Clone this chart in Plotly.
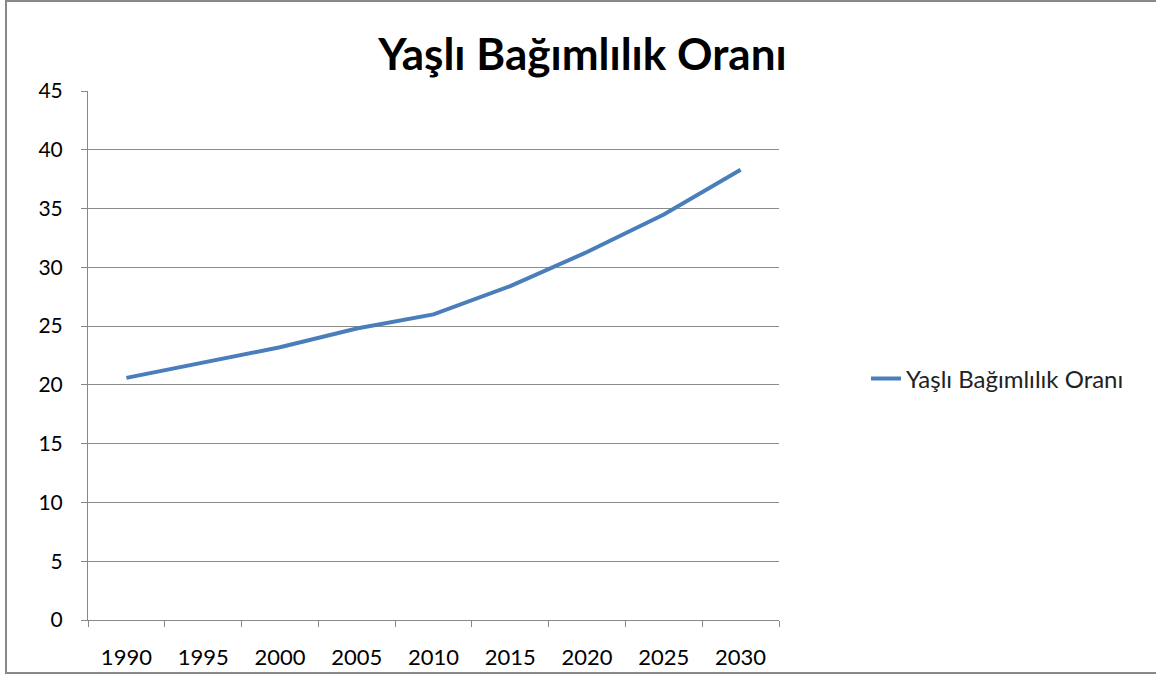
import plotly.graph_objects as go

years = ["1990", "1995", "2000", "2005", "2010", "2015", "2020", "2025", "2030"]
values = [20.6, 21.9, 23.2, 24.8, 26.0, 28.4, 31.3, 34.5, 38.3]
series_name = "Yaşlı Bağımlılık Oranı"
title_text = "Yaşlı Bağımlılık Oranı"

FONT = "Lato"
W, H = 1156, 675
L, R, T, B = 88, 779, 91, 620
pw, ph = R - L, B - T

fig = go.Figure()
fig.add_trace(go.Scatter(
    x=years, y=values, mode="lines", name=series_name,
    line=dict(color="#4A7EBB", width=4),
))

fig.update_layout(
    width=W, height=H,
    margin=dict(l=L, r=W - R, t=T, b=H - B, autoexpand=False),
    paper_bgcolor="white", plot_bgcolor="white",
    font=dict(family=FONT, color="#000000", size=20),
    title=dict(text=title_text, x=582.5 / W, xanchor="center", y=1 - 55 / H, yanchor="middle",
               font=dict(family=FONT, size=44, color="#000000", weight="bold")),
    showlegend=True,
    legend=dict(x=(866 - L) / pw, xanchor="left", y=(B - 379) / ph, yanchor="middle",
                font=dict(family=FONT, size=24, color="#222222"), bgcolor="rgba(0,0,0,0)",
                itemwidth=30, tracegroupgap=0),
)

fig.update_xaxes(
    type="category", range=[-0.5, 8.5], tickson="boundaries",
    showgrid=False, showline=True, linecolor="#888888", linewidth=1,
    ticks="outside", ticklen=6, tickcolor="#888888",
    tickfont=dict(family=FONT, size=22), ticklabelstandoff=18,
)
fig.update_yaxes(
    range=[0, 45], dtick=5, tick0=0,
    showgrid=True, gridcolor="#8C8C8C", gridwidth=1,
    showline=True, linecolor="#888888", linewidth=1,
    ticks="outside", ticklen=6, tickcolor="#888888",
    tickfont=dict(family=FONT, size=21), ticklabelstandoff=14,
    zeroline=False,
)

# outer chart border
fig.add_shape(type="rect", xref="paper", yref="paper",
              x0=(6 - L) / pw, x1=(1170 - L) / pw,
              y0=(B - 673) / ph, y1=(B - 1) / ph,
              line=dict(color="#888888", width=2), fillcolor="rgba(0,0,0,0)", layer="below")

fig.write_html("out.html", config={"displayModeBar": False},
               post_script="document.body.style.margin='0';")
